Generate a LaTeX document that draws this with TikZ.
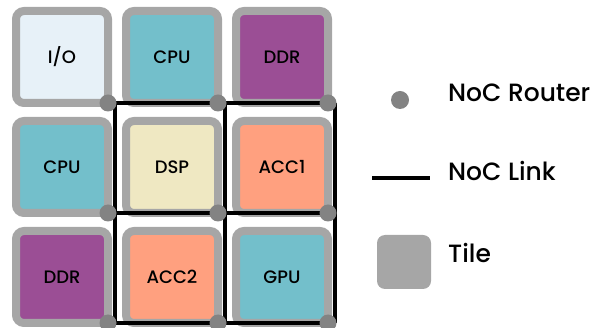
\documentclass[tikz,border=0pt]{standalone}
\usepackage{fontspec}
\setmainfont{Poppins}[UprightFont={* Medium}]
\usetikzlibrary{positioning}
\definecolor{tilegray}{HTML}{A6A6A6}
\definecolor{routergray}{HTML}{838383}
\definecolor{iofill}{HTML}{E7F1F8}
\definecolor{cpufill}{HTML}{73BFCB}
\definecolor{ddrfill}{HTML}{9B4E95}
\definecolor{dspfill}{HTML}{EFE8C2}
\definecolor{accfill}{HTML}{FFA07F}
\pgfdeclarelayer{tiles}
\pgfdeclarelayer{links}
\pgfsetlayers{tiles,links,main}
\tikzset{
  tile/.style={draw=tilegray, line width=8pt, rounded corners=8pt, minimum size=92pt,
    inner sep=0pt, outer sep=0pt, font=\fontsize{18}{18}\selectfont},
  router/.style={circle, fill=routergray, minimum size=17pt, inner sep=0pt, outer sep=0pt},
  link/.style={line width=3.6pt, black},
  legend/.style={anchor=west, inner sep=0pt, font=\fontsize{25}{25}\selectfont}
}
\begin{document}
\begin{tikzpicture}[x=1pt,y=-1pt]
\useasboundingbox (0,0) rectangle (602,328);
% tiles
\begin{pgfonlayer}{tiles}
\node[tile, fill=iofill]  (io)   at (62,57)   {I/O};
\node[tile, fill=cpufill] (cpuA) at (172,57)  {CPU};
\node[tile, fill=ddrfill] (ddrA) at (282,57)  {DDR};
\node[tile, fill=cpufill] (cpuB) at (62,167)  {CPU};
\node[tile, fill=dspfill] (dsp)  at (172,167) {DSP};
\node[tile, fill=accfill] (accA) at (282,167) {ACC1};
\node[tile, fill=ddrfill] (ddrB) at (62,277)  {DDR};
\node[tile, fill=accfill] (accB) at (172,277) {ACC2};
\node[tile, fill=cpufill] (gpu)  at (282,277) {GPU};
\end{pgfonlayer}
% routers
\node[router] (r11) at (io.south east) {};
\node[router] (r12) at (cpuA.south east) {};
\node[router] (r13) at (ddrA.south east) {};
\node[router] (r21) at (cpuB.south east) {};
\node[router] (r22) at (dsp.south east) {};
\node[router] (r23) at (accA.south east) {};
\node[router] (r31) at (ddrB.south east) {};
\node[router] (r32) at (accB.south east) {};
\node[router] (r33) at (gpu.south east) {};
% links
\begin{pgfonlayer}{links}
\draw[link] ([xshift=7pt]r11.center) -- ([xshift=7pt]r13.center);
\draw[link] ([xshift=7pt]r21.center) -- ([xshift=7pt]r23.center);
\draw[link] ([xshift=7pt]r31.center) -- ([xshift=7pt]r33.center);
\draw[link] ([xshift=7pt]r11.center) -- ([xshift=7pt]r31.center);
\draw[link] ([xshift=7pt]r12.center) -- ([xshift=7pt]r32.center);
\draw[link] ([xshift=7pt]r13.center) -- ([xshift=7pt]r33.center);
\end{pgfonlayer}
% legend
\node[router, minimum size=18pt] (keyrouter) at (400,100) {};
\node[legend] (keyrouterlbl) at (448,93) {NoC Router};
\coordinate (keylinkA) at (372,178);
\coordinate (keylinkB) at (430,178);
\draw[line width=4pt] (keylinkA) -- (keylinkB);
\node[legend] (keylinklbl) at (448,171) {NoC Link};
\node[fill=tilegray, rounded corners=8pt, minimum size=54pt, inner sep=0pt] (keytile) at (404,262) {};
\node[legend] (keytilelbl) at (448,253) {Tile};
\end{tikzpicture}
\end{document}
